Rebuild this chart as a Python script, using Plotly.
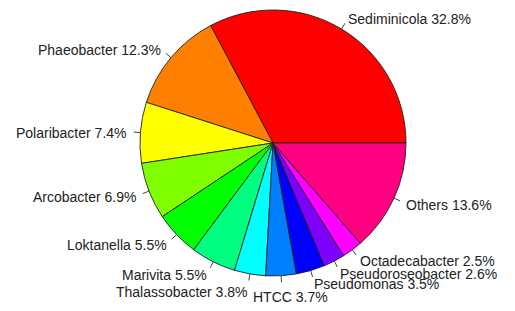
import math
import plotly.graph_objects as go

# ---- data ----
genera = ["Sediminicola", "Phaeobacter", "Polaribacter", "Arcobacter", "Loktanella",
          "Marivita", "Thalassobacter", "HTCC", "Pseudomonas", "Pseudoroseobacter",
          "Octadecabacter", "Others"]
percent = [32.8, 12.3, 7.4, 6.9, 5.5, 5.5, 3.8, 3.7, 3.5, 2.6, 2.5, 13.6]
colors = ["#FF0000", "#FF8000", "#FFFF00", "#80FF00", "#00FF00", "#00FF80",
          "#00FFFF", "#0080FF", "#0000FF", "#8000FF", "#FF00FF", "#FF0080"]
labels = [f"{g} {p}%" for g, p in zip(genera, percent)]

# manual label nudges (pixels) for overlapping labels
nudge_dx = {"HTCC": -29}
nudge_dy = {"Thalassobacter": 4, "HTCC": 7}

# ---- layout geometry (pixels) ----
W, H = 515, 311
cx, cy, r = 273, 143, 133

total = sum(percent)
# plotly's counterclockwise mode places the first slice clockwise of `rotation`,
# so shift by the first slice's angle to make it start at 3 o'clock (R style)
rot = 90 - percent[0] / total * 360

fig = go.Figure(go.Pie(
    values=percent,
    labels=genera,
    marker=dict(colors=colors, line=dict(color="#222222", width=0.9)),
    sort=False,
    direction="counterclockwise",
    rotation=rot,
    textinfo="none",
    hoverinfo="label+percent",
    showlegend=False,
    domain=dict(x=[(cx - r) / W, (cx + r) / W], y=[(H - cy - r) / H, (H - cy + r) / H]),
))

cum = 0.0
shapes = []
annotations = []
for g, p, lab in zip(genera, percent, labels):
    mid = (cum + p / 2) / total * 2 * math.pi
    cum += p
    c, s = math.cos(mid), math.sin(mid)
    # tick line from r to 1.05 r
    x0, y0 = cx + r * c, cy - r * s
    x1, y1 = cx + 1.05 * r * c, cy - 1.05 * r * s
    shapes.append(dict(type="line", xref="paper", yref="paper",
                       x0=x0 / W, y0=1 - y0 / H, x1=x1 / W, y1=1 - y1 / H,
                       line=dict(color="#444444", width=1)))
    tx = cx + 1.1 * r * c + nudge_dx.get(g, 0)
    ty = cy - 1.1 * r * s + nudge_dy.get(g, 0) + 1
    annotations.append(dict(xref="paper", yref="paper", x=tx / W, y=1 - ty / H,
                            text=lab, showarrow=False,
                            xanchor="left" if c >= 0 else "right", yanchor="middle",
                            xshift=-2 if c >= 0 else 2,
                            font=dict(family="Liberation Sans, Arial, sans-serif",
                                      size=14, color="#222222")))

fig.update_layout(
    width=W, height=H,
    margin=dict(l=0, r=0, t=0, b=0),
    paper_bgcolor="white", plot_bgcolor="white",
    shapes=shapes, annotations=annotations,
)

fig.write_html("out.html", config={"displayModeBar": False},
               post_script="document.body.style.margin='0';")
